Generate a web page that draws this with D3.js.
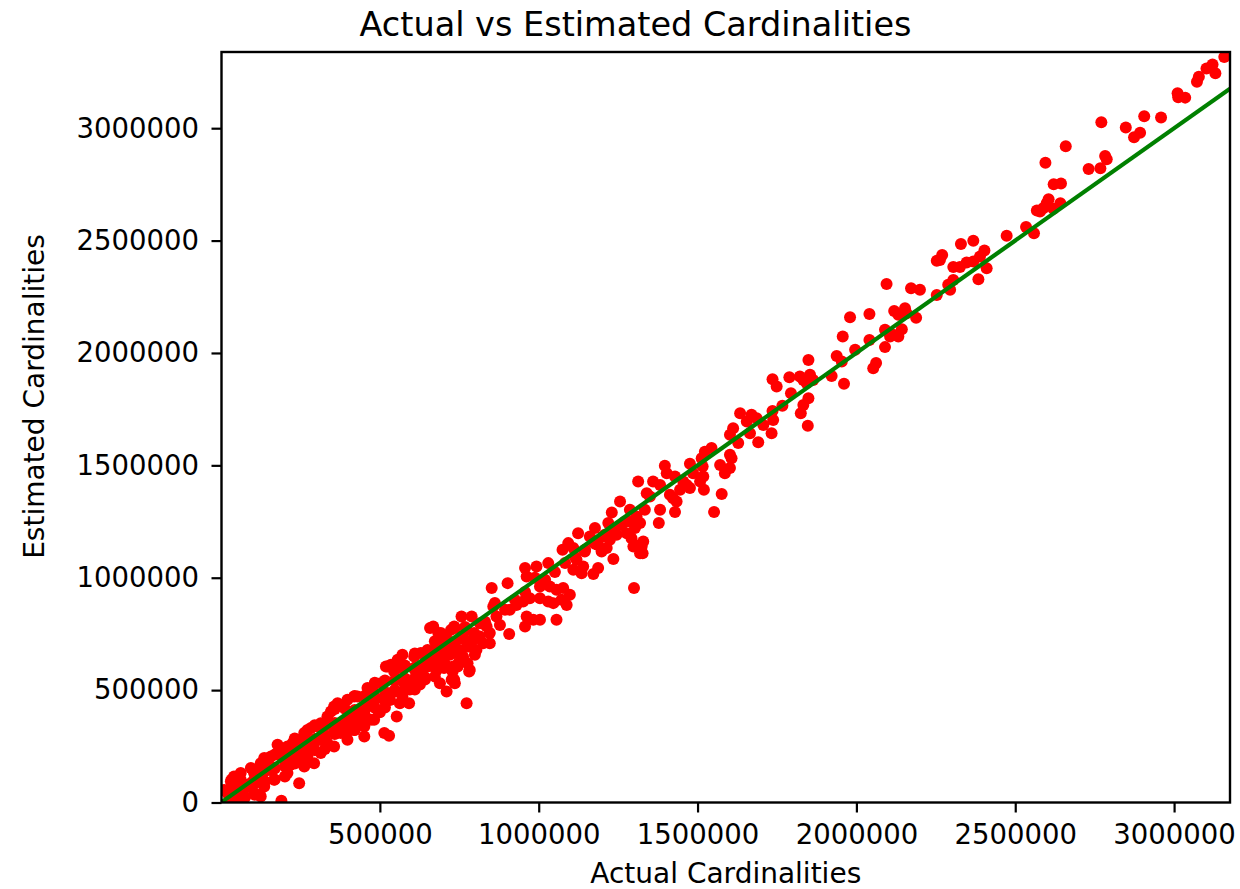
<!DOCTYPE html>
<html>
<head>
<meta charset="utf-8">
<script src="https://cdn.jsdelivr.net/npm/d3@7"></script>
<style>
  body { margin: 0; background: #fff; }
  svg text { font-family: "DejaVu Sans", sans-serif; fill: #000; }
</style>
</head>
<body>
<svg id="chart" width="1240" height="889"></svg>
<script>
// cardinalities, in thousands
const actualK = [
  // top right
  3158,3121,3102,3130,3078,3072,3011,3013,3035,2959,2906,2848,2893,2874,2771,2659,2783,2788,2595,2731,2768,2621,2644,2605,2599,2588,2568,2642,2620,2578,2534,2559,2473,
  // 2.0M - 2.4M
  2368,2329,2403,2389,2368,2347,2326,2305,2410,2384, 2263,2253,2270,2305,2289,2295,2253,2172,2200,2095,
  2119,2153,2132,2188,2158,1980,2041,2090,2116,2132, 2143,2106,1957,2041,1996,2090,2062,2053,1954,1961,
  // 1.6M - 1.95M
  1938,1922,1849,1736,1749,1789,1822,1854,1843,1864, 1833,1794,1767,1736,1849,1833,1825,1847,1738,1733,
  1634,1670,1686,1707,1655,1612,1602,1665,1691,1628,
  // 1.3M - 1.6M
  1544,1523,1513,1602,1607,1571,1602,1586,1476,1516, 1518,1486,1508,1520,1576,1552,1397,1403,1360,1382,
  1429,1445,1413,1434,1382,1429,1378,1340,1334,1350, 1324,1327,1466,1476,1423,1313,1455,
  // 1.05M - 1.35M
  1256,1230,1287,1308,1319,1287,1261,1303,1277,1292, 1298,1319,1319,1329,1300,1219,1235,1177,1203,1224,
  1245,1187,1198,1214,1235,1161,1172,1124,1093,1075, 1109,1145,1119,1140,1135,1187,1172,1109,
  // 0.65M - 1.1M
  1030,993,957,962,1014,1004,1035,1056,1077,1098, 1072,1046,1004,1030,1056,1088,902,852,972,951,
  930,909,962,983,1004,957,907,857,867,878, 836,846,815,794,825,846,757,789,815,773,
  757,783,804,799,762,747,783,731,726,710, 773,684,699,668,705,679,673,689,
  // 0.8M - 1.3M, near the line
  831,862,894,925,957,988,1020,1051,1083,1114, 1146,1177,1208,1240,1271,
  // dense band, upper part
  734,797,755,724,658,692,708,682,713,734, 776,776,745,781,734,729,702,671,650,629,
  608,587,571,592,553,529,514,493,482,451, 419,398,430,461,477,503,524,556,571,608,
  629,650,519,535,571,545,461,430,398,367, 346,335,304,283,262,241,209,178,157,125,
  104,62,41,31,10,62,94,136,183,225, 272,314,356,419,
  // dense band, lower part
  514,451,398,356,314,293,262,246,209,167, 136,104,73,31,190,125,62,20,94,157,
  230,272,335,377,419,472,262,314,367,419, 472,524,577,629,682,734,209,157,104,52,
  563,736,33,122,59,
  // dense band, middle
  185,232,280,327,343,390,437,452,484,500, 547,563,594,610,642,658,689,705,752,720,
  147,129,84,43,217,248,296,358,406,532, 626,673,
  43,43,75,75,106,106,106,138,138,169, 169,169,201,201,201,232,232,232,264,264,
  264,295,295,295,327,327,327,358,358,358, 390,390,390,421,421,421,421,453,453,453,
  484,484,484,516,516,516,547,547,547,579, 579,579,610,610,610,610,642,642,642,673,
  673,673,705,705,705,736,736,736,768,768
];
const estimatedK = [
  3317,3283,3266,3244,3229,3207,3155,3138,3136,3048,3053,3003,2980,2960,3026,2920,2876,2862,2846,2818,2822,2751,2754,2684,2666,2644,2634,2666,2642,2629,2560,2533,2521,
  2499,2485,2456,2429,2407,2402,2382,2382,2377,2328, 2414,2410,2436,2325,2303,2281,2258,2288,2281,2307,
  2187,2199,2170,2157,2177,2159,2173,2103,2081,2073, 2106,2073,2073,2058,2014,2026,1955,1932,1962,1863,
  1987,1898,1969,1883,1851,1892,1895,1903,1866,1880, 1880,1821,1765,1742,1799,1769,1732,1676,1702,1643,
  1732,1725,1710,1680,1695,1665,1636,1643,1603,1599,
  1577,1561,1532,1547,1532,1502,1488,1465,1507,1495, 1450,1465,1428,1391,1373,1292,1498,1465,1428,1413,
  1450,1391,1369,1339,1302,1292,1243,1376,1302,1361, 1139,1109,1413,1399,1354,1428,1428,
  1339,1290,1302,1272,1243,1250,1235,1221,1198,1176, 1139,1109,1146,1161,954,1243,1206,1221,1183,1169,
  1191,1146,1117,1132,1083,1183,1161,1198,1154,1124, 1132,1117,1080,1050,1020,1043,1017,1035,
  1065,1050,1043,1005,991,961,961,946,954,924, 902,887,909,894,813,879,976,954,909,894,
  879,857,827,813,813,783,750,872,827,790, 783,754,738,724,709,709,827,827,798,768,
  738,694,679,657,649,620,590,605,546,494, 442,754,724,783,657,590,560,531,
  804,888,857,902,937,1000,991,1026,1066,1093, 1124,1151,1191,1218,1249,
  783,754,731,768,776,754,738,694,709,679, 694,620,605,583,546,583,598,635,605,576,
  531,516,472,442,383,297,457,412,368,338, 323,316,368,427,501,531,605,635,657,649,
  665,679,605,613,598,583,509,472,457,442, 405,383,338,331,309,279,249,257,205,175,
  131,131,116,93,56,101,153,198,212,264, 323,353,427,472,
  309,294,279,249,220,175,160,86,131,101, 71,42,27,12,8,27,56,42,86,145,
  190,205,264,309,338,368,234,279,338,383, 442,487,531,590,649,709,190,160,101,56,
  442,531,101,34,27,
  226,244,257,302,347,359,412,390,456,402, 501,546,503,590,547,635,613,679,679,657,
  145,123,79,34,167,212,270,323,390,456, 525,599,
  70,16,66,22,146,84,35,151,94,213, 151,102,219,161,116,285,223,174,286,228,
  184,344,282,233,354,287,238,416,354,305, 417,359,314,474,412,363,323,475,417,373,
  533,471,422,543,476,423,605,543,494,610, 552,503,663,601,552,503,664,606,557,717,
  655,606,723,665,616,776,714,665,781,724
];

const xTicks = [500000, 1000000, 1500000, 2000000, 2500000, 3000000];
const yTicks = [0, 500000, 1000000, 1500000, 2000000, 2500000, 3000000];
const xLimits = [1500, 3176000];
const yLimits = [0, 3339000];

var points = actualK.map(function (a, i) {
    return {actual: a * 1000, estimated: estimatedK[i] * 1000};
});

var svg = d3.select("#chart");

var margin = {top: 52, right: 10, bottom: 86.5, left: 221.5};
var width = +svg.attr("width") - margin.left - margin.right,
    height = +svg.attr("height") - margin.top - margin.bottom;

var x = d3.scaleLinear().domain(xLimits).range([0, width]),
    y = d3.scaleLinear().domain(yLimits).range([height, 0]);

var g = svg.append("g")
    .attr("transform", "translate(" + margin.left + "," + margin.top + ")");

g.append("clipPath")
    .attr("id", "clip")
    .append("rect")
    .attr("width", width)
    .attr("height", height);

var plot = g.append("g").attr("clip-path", "url(#clip)");

// scatter
plot.selectAll("circle")
    .data(points)
    .join("circle")
    .attr("cx", function (d) { return x(d.actual); })
    .attr("cy", function (d) { return y(d.estimated); })
    .attr("r", 6)
    .attr("fill", "red");

// y = x reference line
plot.append("path")
    .datum(xLimits.map(function (v) { return [v, v]; }))
    .attr("fill", "none")
    .attr("stroke", "green")
    .attr("stroke-width", 4.2)
    .attr("d", d3.line().x(function (d) { return x(d[0]); }).y(function (d) { return y(d[1]); }));

// axes
var xAxis = d3.axisBottom(x).tickValues(xTicks).tickFormat(d3.format("d")).tickSize(10).tickPadding(12),
    yAxis = d3.axisLeft(y).tickValues(yTicks).tickFormat(d3.format("d")).tickSize(10).tickPadding(12.5);

var gx = g.append("g")
    .attr("transform", "translate(0," + height + ")")
    .call(xAxis);
var gy = g.append("g").call(yAxis);

[gx, gy].forEach(function (ax) {
    ax.select(".domain").remove();
    ax.selectAll(".tick line").attr("stroke", "#000").attr("stroke-width", 2.2);
    ax.selectAll(".tick text")
        .attr("fill", "#000")
        .style("font-family", "'DejaVu Sans', sans-serif")
        .style("font-size", "27.5px");
});

// frame
g.append("rect")
    .attr("width", width)
    .attr("height", height)
    .attr("fill", "none")
    .attr("stroke", "#000")
    .attr("stroke-width", 2.4);

// title and labels
svg.append("text")
    .attr("x", 635.5)
    .attr("y", 36)
    .style("text-anchor", "middle")
    .style("font-size", "33.5px")
    .text("Actual vs Estimated Cardinalities");

svg.append("text")
    .attr("x", margin.left + width / 2)
    .attr("y", 883)
    .style("text-anchor", "middle")
    .style("font-size", "28px")
    .text("Actual Cardinalities");

svg.append("text")
    .attr("transform", "translate(43.5," + 396.5 + ") rotate(-90)")
    .style("text-anchor", "middle")
    .style("font-size", "28px")
    .text("Estimated Cardinalities");
</script>
</body>
</html>
